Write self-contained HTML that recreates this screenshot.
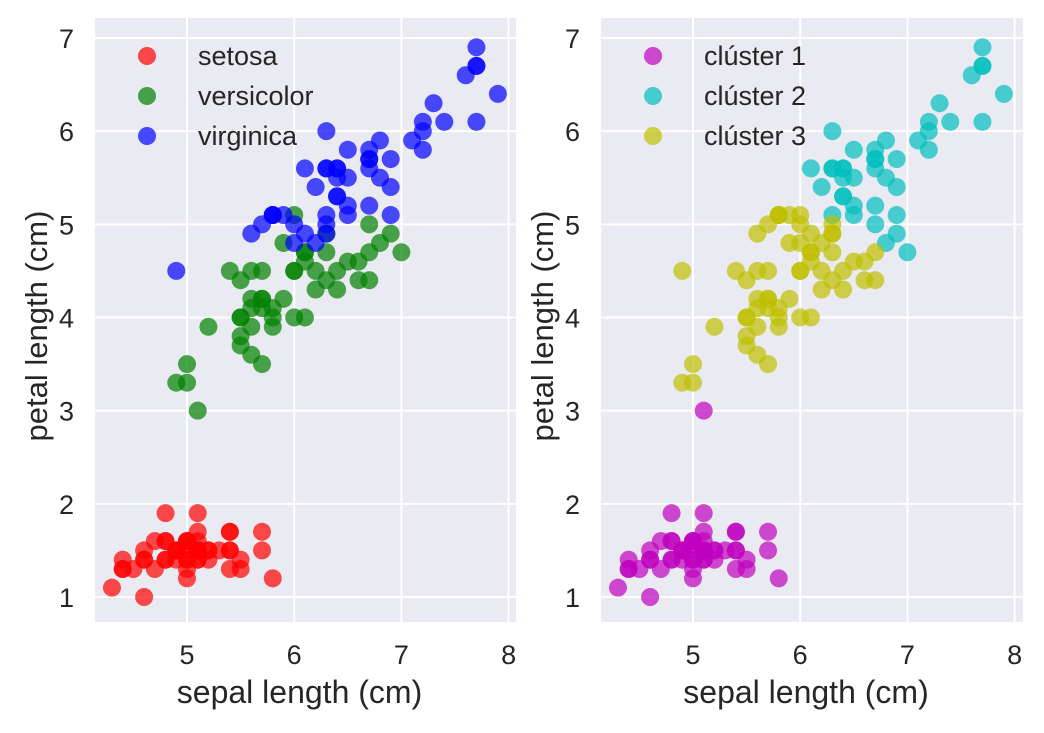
<!DOCTYPE html>
<html><head><meta charset="utf-8"><style>
body{margin:0;background:#fff;}
svg text{font-family:"Liberation Sans",sans-serif;fill:#262626;}
</style></head><body>
<svg id="chart" width="1044" height="728" xmlns="http://www.w3.org/2000/svg"></svg>
<script>
const sepal = [5.1,4.9,4.7,4.6,5.0,5.4,4.6,5.0,4.4,4.9,5.4,4.8,4.8,4.3,5.8,5.7,5.4,5.1,5.7,5.1,5.4,5.1,4.6,5.1,4.8,5.0,5.0,5.2,5.2,4.7,4.8,5.4,5.2,5.5,4.9,5.0,5.5,4.9,4.4,5.1,5.0,4.5,4.4,5.0,5.1,4.8,5.1,4.6,5.3,5.0,
7.0,6.4,6.9,5.5,6.5,5.7,6.3,4.9,6.6,5.2,5.0,5.9,6.0,6.1,5.6,6.7,5.6,5.8,6.2,5.6,5.9,6.1,6.3,6.1,6.4,6.6,6.8,6.7,6.0,5.7,5.5,5.5,5.8,6.0,5.4,6.0,6.7,6.3,5.6,5.5,5.5,6.1,5.8,5.0,5.6,5.7,5.7,6.2,5.1,5.7,
6.3,5.8,7.1,6.3,6.5,7.6,4.9,7.3,6.7,7.2,6.5,6.4,6.8,5.7,5.8,6.4,6.5,7.7,7.7,6.0,6.9,5.6,7.7,6.3,6.7,7.2,6.2,6.1,6.4,7.2,7.4,7.9,6.4,6.3,6.1,7.7,6.3,6.4,6.0,6.9,6.7,6.9,5.8,6.8,6.7,6.7,6.3,6.5,6.2,5.9];
const petal = [1.4,1.4,1.3,1.5,1.4,1.7,1.4,1.5,1.4,1.5,1.5,1.6,1.4,1.1,1.2,1.5,1.3,1.4,1.7,1.5,1.7,1.5,1.0,1.7,1.9,1.6,1.6,1.5,1.4,1.6,1.6,1.5,1.5,1.4,1.5,1.2,1.3,1.5,1.3,1.5,1.3,1.3,1.3,1.6,1.9,1.4,1.6,1.4,1.5,1.4,
4.7,4.5,4.9,4.0,4.6,4.5,4.7,3.3,4.6,3.9,3.5,4.2,4.0,4.7,3.6,4.4,4.5,4.1,4.5,3.9,4.8,4.0,4.9,4.7,4.3,4.4,4.8,5.0,4.5,3.5,3.8,3.7,3.9,5.1,4.5,4.5,4.7,4.4,4.1,4.0,4.4,4.6,4.0,3.3,4.2,4.2,4.2,4.3,3.0,4.1,
6.0,5.1,5.9,5.6,5.8,6.6,4.5,6.3,5.8,6.1,5.1,5.3,5.5,5.0,5.1,5.3,5.5,6.7,6.9,5.0,5.7,4.9,6.7,4.9,5.7,6.0,4.8,4.9,5.6,5.8,6.1,6.4,5.6,5.1,5.6,6.1,5.6,5.5,4.8,5.4,5.6,5.1,5.1,5.9,5.7,5.2,5.0,5.2,5.4,5.1];
const species = [];
for(let i=0;i<150;i++) species.push(Math.floor(i/50));
const clusters = [0,0,0,0,0,0,0,0,0,0,0,0,0,0,0,0,0,0,0,0,0,0,0,0,0,0,0,0,0,0,0,0,0,0,0,0,0,0,0,0,0,0,0,0,0,0,0,0,0,0,
1,2,1,2,2,2,2,2,2,2,2,2,2,2,2,2,2,2,2,2,2,2,2,2,2,2,1,1,2,2,2,2,2,2,2,2,2,2,2,2,2,2,2,2,2,2,2,2,0,2,
1,2,1,1,1,1,2,1,1,1,1,1,1,2,2,1,1,1,1,2,1,2,1,2,1,1,2,2,1,1,1,1,1,1,1,1,1,1,2,1,1,1,2,1,1,1,2,1,1,2];
const speciesNames = ["setosa","versicolor","virginica"];
const clusterNames = ["clúster 1","clúster 2","clúster 3"];
const xTicks = [5,6,7,8];
const yTicks = [1,2,3,4,5,6,7];

const NS="http://www.w3.org/2000/svg";
const svg=document.getElementById('chart');
function mk(tag,attrs,parent){const e=document.createElementNS(NS,tag);for(const k in attrs)e.setAttribute(k,attrs[k]);(parent||svg).appendChild(e);return e;}

function panel(x0,x1,labels,colors,names,pname){
  const top=18,bottom=622;
  const g=mk('g',{});
  
  
  const px5=x0+92, pxPer=107.2;
  const X=v=>px5+(v-5)*pxPer;
  const Y=v=>597-(v-1)*93.17;
  const bg=mk('rect',{x:x0,y:top,width:x1-x0,height:bottom-top,fill:'#EAEAF2'},g);
  
  
  xTicks.forEach(t=>{
    mk('line',{x1:X(t),x2:X(t),y1:top,y2:bottom,stroke:'#fff','stroke-width':2},g);
    const tx=mk('text',{x:X(t),y:664,'font-size':27,'text-anchor':'middle'},g);
    tx.textContent=t;
    
    
  });
  yTicks.forEach(t=>{
    mk('line',{x1:x0,x2:x1,y1:Y(t),y2:Y(t),stroke:'#fff','stroke-width':2},g);
    const tx=mk('text',{x:x0-21,y:Y(t)+10,'font-size':27,'text-anchor':'end'},g);
    tx.textContent=t;
    
    
  });
  for(let i=0;i<sepal.length;i++){
    const c=mk('circle',{cx:X(sepal[i]),cy:Y(petal[i]),r:9,fill:colors[labels[i]],'fill-opacity':0.7},g);
    
    
  }
  const xl=mk('text',{x:(x0+x1)/2-6,y:703,'font-size':32,'text-anchor':'middle'},g);
  xl.textContent='sepal length (cm)';
  
  
  const yl=mk('text',{x:0,y:0,'font-size':31,'text-anchor':'middle',transform:`translate(${x0-48},${(top+bottom)/2+6}) rotate(-90)`},g);
  yl.textContent='petal length (cm)';
  
  
  names.forEach((n,k)=>{
    const yy=56+k*40;
    const lg=mk('g',{},g);
    
    
    mk('circle',{cx:x0+52,cy:yy,r:9,fill:colors[k],'fill-opacity':0.7},lg);
    const t=mk('text',{x:x0+103,y:yy+9,'font-size':27},lg);
    t.textContent=n;
  });
}
panel(95,516,species,['#ff0000','#008000','#0000ff'],speciesNames,'species-panel');
panel(601,1023,clusters,['#bf00bf','#00bfbf','#bfbf00'],clusterNames,'cluster-panel');
</script>
</body></html>
